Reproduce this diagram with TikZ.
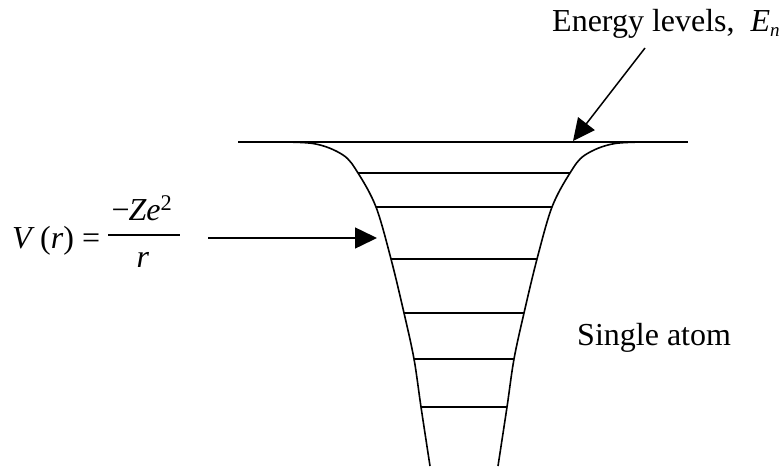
\documentclass[tikz,border=0pt]{standalone}
\usepackage{fontspec}
\setmainfont{Liberation Serif}
\usetikzlibrary{arrows.meta, positioning}
\tikzset{
  wellwall/.style={line width=1.6pt, line join=round},
  enlevel/.style={line width=1.3pt},
  fracbar/.style={line width=1.5pt},
  pointer/.style={-{Triangle[length=22pt, width=21pt]}, line width=1.5pt},
  lbl/.style={font=\fontsize{32}{38}\selectfont, inner sep=0pt}
}

\begin{document}
\begin{tikzpicture}[x=1pt, y=-1pt]
  \useasboundingbox (0,0) rectangle (783,468);
  % potential well
  \draw[wellwall] (238,142) -- (688,142);
  \draw[wellwall] plot[smooth, tension=0.55] coordinates {(262,142) (313,143.5) (343,155) (358,173) (376,207) (391,259) (404,313) (414,359) (421,407) (430,466)};
  \draw[wellwall] plot[smooth, tension=0.55] coordinates {(666,142) (615,143.5) (585,155) (570,173) (552,207) (537,259) (524,313) (514,359) (507,407) (498,466)};
  % bound levels
  \foreach \y/\w in {173/106, 207/88, 259/73, 313/60, 359/50, 407/43}
    \draw[enlevel] (464-\w,\y) -- (464+\w,\y);

  % labels
  \node[lbl, anchor=base west] (elev) at (552,32) {Energy levels,\ \ \textit{E}\raisebox{-0.3ex}{\fontsize{19}{22}\selectfont\textit{n}}};
  \node[lbl, anchor=base west] (atom) at (577,345) {Single atom};
  \node[lbl, anchor=base west] (potlhs) at (12,248) {\textit{V}\,(\textit{r}) =};
  \node[lbl, anchor=base] (potnum) at (142,220) {−\kern-1pt\textit{Ze}\textsuperscript{2}};
  \node[lbl, anchor=base] (potden) at (143,267) {\textit{r}};
  \draw[fracbar] (108,235) -- (180,235);

  % pointers
  \coordinate (elevtail) at (645,48);
  \coordinate (elevtip) at (573,141);
  \draw[pointer] (elevtail) -- (elevtip);
  \coordinate (pottail) at (208,238);
  \coordinate (pottip) at (377,238);
  \draw[pointer] (pottail) -- (pottip);
\end{tikzpicture}
\end{document}
